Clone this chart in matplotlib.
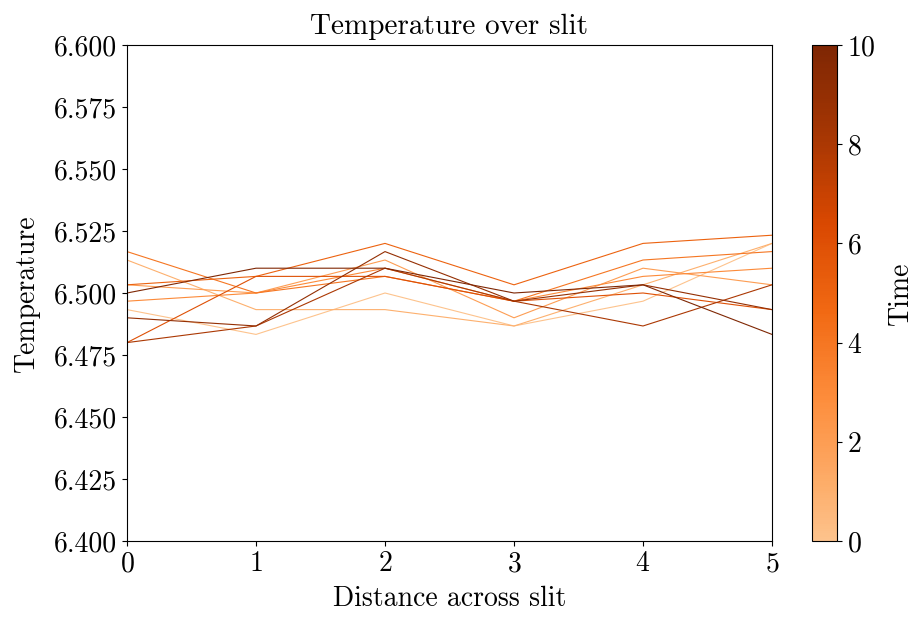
import numpy as np
import matplotlib
matplotlib.use('Agg')
import matplotlib.pyplot as plt
from matplotlib.colors import LinearSegmentedColormap, Normalize
from matplotlib.cm import ScalarMappable

plt.rcParams['font.family'] = 'serif'
plt.rcParams['font.serif'] = ['cmr10']
plt.rcParams['mathtext.fontset'] = 'cm'
plt.rcParams['axes.formatter.use_mathtext'] = True
plt.rcParams['axes.unicode_minus'] = False
plt.rcParams['font.size'] = 20
plt.rcParams['axes.titlesize'] = 21
plt.rcParams['axes.labelsize'] = 20

# positions across the slit
distance = [0, 1, 2, 3, 4, 5]

# time of each profile
times = [0, 1, 2, 3, 4, 5, 6, 8, 9, 10]

# temperature profiles, one per time
temp_t0 = [6.4933, 6.4833, 6.5000, 6.4867, 6.4967, 6.5200]
temp_t1 = [6.5133, 6.4933, 6.4933, 6.4867, 6.5033, 6.5200]
temp_t2 = [6.5033, 6.5000, 6.5133, 6.4900, 6.5100, 6.5033]
temp_t3 = [6.4967, 6.5000, 6.5100, 6.4967, 6.5067, 6.5100]
temp_t4 = [6.5167, 6.5000, 6.5067, 6.4967, 6.5133, 6.5167]
temp_t5 = [6.5033, 6.5067, 6.5200, 6.5033, 6.5200, 6.5233]
temp_t6 = [6.4800, 6.5067, 6.5067, 6.4967, 6.5000, 6.4933]
temp_t8 = [6.4800, 6.4867, 6.5100, 6.4967, 6.4867, 6.5033]
temp_t9 = [6.4900, 6.4867, 6.5167, 6.4967, 6.5033, 6.4933]
temp_t10 = [6.5000, 6.5100, 6.5100, 6.5000, 6.5033, 6.4833]

profiles = [temp_t0, temp_t1, temp_t2, temp_t3, temp_t4,
            temp_t5, temp_t6, temp_t8, temp_t9, temp_t10]

# Oranges without its palest part
cmap = LinearSegmentedColormap.from_list(
    'oranges_cut', plt.cm.Oranges(np.linspace(0.3, 1.0, 256)))
norm = Normalize(vmin=0, vmax=10)

fig = plt.figure(figsize=(9.15, 6.17), dpi=100)
ax = fig.add_axes([127 / 915, 1 - 541 / 617, 645 / 915, 496 / 617])
cax = fig.add_axes([812 / 915, 1 - 541 / 617, 25 / 915, 496 / 617])

for t, temp in zip(times, profiles):
    ax.plot(distance, temp, color=cmap(norm(t)), lw=0.8)

ax.set_xlim(0, 5)
ax.set_ylim(6.4, 6.6)
ax.set_yticks(np.arange(6.4, 6.6001, 0.025))
ax.yaxis.set_major_formatter(matplotlib.ticker.FormatStrFormatter('%.3f'))
ax.set_xlabel('Distance across slit', labelpad=6)
ax.set_ylabel('Temperature', labelpad=10)
ax.set_title('Temperature over slit', pad=8)

sm = ScalarMappable(norm=norm, cmap=cmap)
cb = fig.colorbar(sm, cax=cax, ticks=[0, 2, 4, 6, 8, 10])
cb.set_label('Time', labelpad=9)

fig.savefig('out.png', dpi=100)
